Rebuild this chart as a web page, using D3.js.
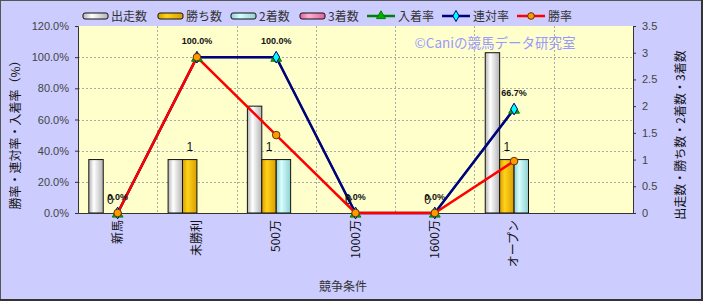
<!DOCTYPE html>
<html>
<head>
<meta charset="utf-8">
<script src="https://cdn.jsdelivr.net/npm/d3@7"></script>
<style>
  body { margin: 0; background: #fff; }
  text { font-family: "Liberation Sans", "Noto Sans CJK JP", sans-serif; }
  .jp { font-family: "Noto Sans CJK JP", sans-serif; }
</style>
</head>
<body>
<div id="chart"></div>
<script>
// data
var categories = ["新馬", "未勝利", "500万", "1000万", "1600万", "オープン", ""];
var starts   = [1, 1, 2, 0, 0, 3];
var wins     = [0, 1, 1, 0, 0, 1];
var seconds  = [0, 0, 1, 0, 0, 1];
var thirds   = [0, 0, 0, 0, 0, 0];
var winRate     = [0, 1, 0.5, 0, 0, 0.333];
var rentaiRate  = [0, 1, 1, 0, 0, 0.667];
var nyuchakuRate = [0, 1, 1, 0, 0, 0.667];
var leftTicks  = [0, 0.2, 0.4, 0.6, 0.8, 1.0, 1.2];
var rightTicks = [0, 0.5, 1, 1.5, 2, 2.5, 3, 3.5];

var barSeries = [
  {name: "出走数", values: starts,  base: "#b4b4b4", hi: "#ffffff"},
  {name: "勝ち数", values: wins,    base: "#d99e00", hi: "#ffd21a"},
  {name: "2着数",  values: seconds, base: "#8fd0d0", hi: "#d8ffff"},
  {name: "3着数",  values: thirds,  base: "#e0609a", hi: "#ffb0d0"}
];
var lineSeries = [
  {name: "入着率", values: nyuchakuRate, color: "#008000", marker: "triangle", fill: "#00b000"},
  {name: "連対率", values: rentaiRate,   color: "#000080", marker: "diamond",  fill: "#00ffff"},
  {name: "勝率",   values: winRate,      color: "#ff0000", marker: "circle",   fill: "#ff9900"}
];

var W = 703, H = 301,
    pL = 78, pR = 633, pT = 26, pB = 213;

var svg = d3.select("#chart").append("svg").attr("width", W).attr("height", H);

svg.append("rect").attr("x", 0.5).attr("y", 0.5).attr("width", W - 2).attr("height", H - 2)
  .attr("fill", "#ccccff").attr("stroke", "#555").attr("stroke-width", 1);
svg.append("line").attr("x1", 0).attr("x2", W).attr("y1", H - 1).attr("y2", H - 1).attr("stroke", "#333").attr("stroke-width", 2);
svg.append("line").attr("x1", W - 1).attr("x2", W - 1).attr("y1", 0).attr("y2", H).attr("stroke", "#333").attr("stroke-width", 2);

// gradients for the bars
var defs = svg.append("defs");
barSeries.forEach(function(s, i) {
  var g = defs.append("linearGradient").attr("id", "grad" + i)
    .attr("x1", "0%").attr("x2", "100%").attr("y1", "0%").attr("y2", "0%");
  g.append("stop").attr("offset", "0%").attr("stop-color", s.base);
  g.append("stop").attr("offset", "35%").attr("stop-color", s.hi);
  g.append("stop").attr("offset", "100%").attr("stop-color", s.base);
});

var x0 = d3.scaleBand().domain(categories).range([pL, pR]).padding(0);
var x1 = d3.scaleBand().domain(barSeries.map(function(s) { return s.name; }))
  .range([0, x0.bandwidth()]).paddingInner(0).paddingOuter(0.75);
var yL = d3.scaleLinear().domain([0, 1.2]).range([pB, pT]);
var yR = d3.scaleLinear().domain([0, 3.5]).range([pB, pT]);
var cx = function(i) { return x0(categories[i]) + x0.bandwidth() / 2; };

svg.append("rect").attr("x", pL).attr("y", pT).attr("width", pR - pL).attr("height", pB - pT)
  .attr("fill", "#ffffcc");

// grid
svg.append("g").selectAll("line").data(leftTicks.slice(1, -1)).enter().append("line")
  .attr("x1", pL).attr("x2", pR).attr("y1", function(d) { return Math.round(yL(d)) + 0.5; })
  .attr("y2", function(d) { return Math.round(yL(d)) + 0.5; })
  .attr("stroke", "#aaa").attr("stroke-dasharray", "2,2");
svg.append("g").selectAll("line").data(categories.slice(1)).enter().append("line")
  .attr("x1", function(d) { return Math.round(x0(d)) + 0.5; }).attr("x2", function(d) { return Math.round(x0(d)) + 0.5; })
  .attr("y1", pT).attr("y2", pB)
  .attr("stroke", "#aaa").attr("stroke-dasharray", "2,2");

// watermark
svg.append("text").attr("class", "jp").attr("x", 495).attr("y", 48).attr("text-anchor", "middle")
  .attr("fill", "#9999ff").style("font-size", "13.5px").text("©Caniの競馬データ研究室");

// bars
barSeries.forEach(function(s, i) {
  svg.append("g").selectAll("rect").data(s.values).enter().append("rect")
    .attr("x", function(d, j) { return x0(categories[j]) + x1(s.name); })
    .attr("y", function(d) { return yR(d); })
    .attr("width", x1.bandwidth())
    .attr("height", function(d) { return pB - yR(d); })
    .attr("display", function(d) { return d > 0 ? null : "none"; })
    .attr("fill", "url(#grad" + i + ")").attr("stroke", "#111").attr("stroke-width", 1);
});

// axes
var axL = svg.append("g").attr("transform", "translate(" + pL + ",0)")
  .call(d3.axisLeft(yL).tickValues(leftTicks).tickSize(3).tickFormat(function(d) { return (d * 100).toFixed(1) + "%"; }));
var axR = svg.append("g").attr("transform", "translate(" + pR + ",0)")
  .call(d3.axisRight(yR).tickValues(rightTicks).tickSize(3).tickFormat(d3.format("")));
var axB = svg.append("g").attr("transform", "translate(0," + pB + ")")
  .call(d3.axisBottom(x0).tickSize(0).tickFormat(""));
[axL, axR, axB].forEach(function(a) {
  a.select(".domain").attr("stroke", "#333");
  a.selectAll(".tick line").attr("stroke", "#333");
  a.selectAll("text").attr("fill", "#444").style("font-size", "11px");
});
axL.selectAll("text").attr("x", -9);
axR.selectAll("text").attr("x", 9);

// category labels
svg.append("g").selectAll("text").data(categories).enter().append("text")
  .attr("class", "jp")
  .attr("transform", function(d, i) { return "translate(" + (cx(i) + 4) + ",220) rotate(-90)"; })
  .attr("text-anchor", "end").attr("fill", "#111").style("font-size", "12px").text(function(d) { return d; });

// line series
var lineGen = d3.line().x(function(d, i) { return cx(i); }).y(function(d) { return yL(d); });
lineSeries.forEach(function(s) {
  svg.append("path").datum(s.values).attr("d", lineGen)
    .attr("fill", "none").attr("stroke", s.color).attr("stroke-width", s.name == "入着率" ? 2 : 2.5);
});
var symbols = {triangle: d3.symbolTriangle, diamond: d3.symbolDiamond, circle: d3.symbolCircle};
lineSeries.forEach(function(s) {
  var sym = d3.symbol().type(symbols[s.marker]).size(s.marker == "circle" ? 45 : s.marker == "diamond" ? 40 : 50);
  svg.append("g").selectAll("path").data(s.values).enter().append("path")
    .attr("transform", function(d, i) {
      return "translate(" + cx(i) + "," + (yL(d) + (s.marker == "triangle" ? 1 : 0)) + ")";
    })
    .attr("d", sym).attr("fill", s.fill).attr("stroke", s.marker == "circle" ? "#663300" : s.color).attr("stroke-width", 1);
});

// data labels
svg.append("g").selectAll("text").data(wins).enter().append("text")
  .attr("x", function(d, i) { return x0(categories[i]) + x1("勝ち数") + x1.bandwidth() / 2; })
  .attr("y", function(d) { return yR(d) - 9; })
  .attr("text-anchor", "middle").attr("fill", "#111").style("font-size", "12px")
  .text(function(d) { return d; });
svg.append("g").selectAll("text").data(rentaiRate).enter().append("text")
  .attr("x", function(d, i) { return cx(i); })
  .attr("y", function(d) { return yL(d) - 13; })
  .attr("text-anchor", "middle").attr("fill", "#111").style("font-size", "9px").style("font-weight", "bold")
  .text(function(d) { return (d * 100).toFixed(1) + "%"; });

// axis titles
svg.append("text").attr("class", "jp").attr("transform", "translate(20,132) rotate(-90)")
  .attr("text-anchor", "middle").attr("fill", "#111").style("font-size", "12px")
  .text("勝率・連対率・入着率（%）");
svg.append("text").attr("class", "jp").attr("transform", "translate(685,135) rotate(-90)")
  .attr("text-anchor", "middle").attr("fill", "#111").style("font-size", "12px")
  .text("出走数・勝ち数・2着数・3着数");
svg.append("text").attr("class", "jp").attr("x", 343).attr("y", 291)
  .attr("text-anchor", "middle").attr("fill", "#333").style("font-size", "12px").text("競争条件");

// legend
var legendX = [83, 158, 231, 300, 367, 442, 517];
var legendItems = barSeries.map(function(s, i) { return {type: "bar", s: s, i: i}; })
  .concat(lineSeries.map(function(s) { return {type: "line", s: s}; }));
var lg = svg.append("g").selectAll("g").data(legendItems).enter().append("g")
  .attr("transform", function(d, i) { return "translate(" + legendX[i] + ",16)"; });
lg.filter(function(d) { return d.type == "bar"; }).append("rect")
  .attr("x", 0).attr("y", -3).attr("width", 25).attr("height", 6).attr("rx", 2)
  .attr("fill", function(d) { return "url(#grad" + d.i + ")"; }).attr("stroke", "#111");
lg.filter(function(d) { return d.type == "line"; }).append("line")
  .attr("x1", 0).attr("x2", 28).attr("stroke", function(d) { return d.s.color; }).attr("stroke-width", 2.5);
lg.filter(function(d) { return d.type == "line"; }).append("path")
  .attr("transform", "translate(14,0)")
  .attr("d", function(d) { return d3.symbol().type(symbols[d.s.marker]).size(35)(); })
  .attr("fill", function(d) { return d.s.fill; })
  .attr("stroke", function(d) { return d.s.marker == "circle" ? "#663300" : d.s.color; });
lg.append("text").attr("class", "jp").attr("x", function(d) { return d.type == "bar" ? 28 : 31; }).attr("y", 4.5)
  .attr("fill", "#333").style("font-size", "12px").text(function(d) { return d.s.name; });
</script>
</body>
</html>
